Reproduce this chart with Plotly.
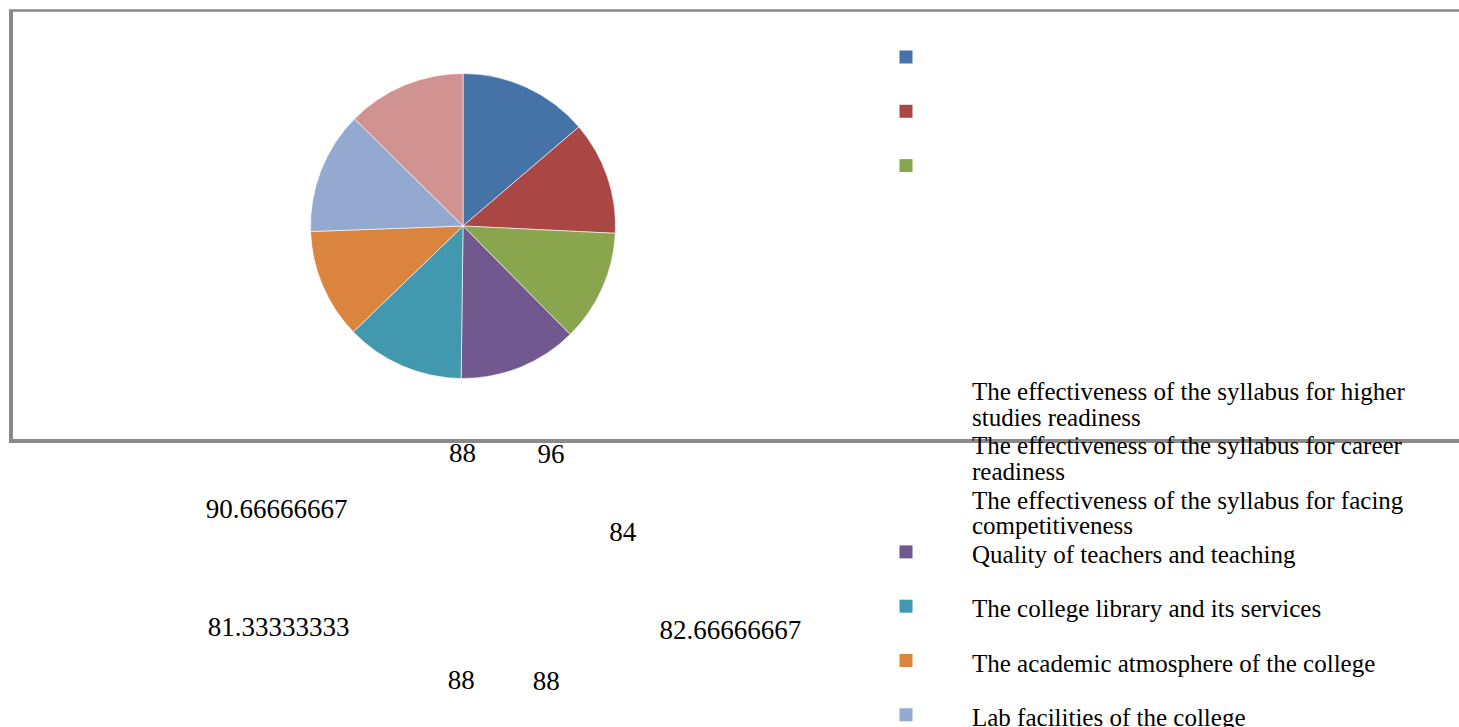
import math
import textwrap
import plotly.graph_objects as go

# ---------------- data ----------------
categories = [
    "The effectiveness of the syllabus for higher studies readiness",
    "The effectiveness of the syllabus for career readiness",
    "The effectiveness of the syllabus for facing competitiveness",
    "Quality of teachers and teaching",
    "The college library and its services",
    "The academic atmosphere of the college",
    "Lab facilities of the college",
    "Overall satisfaction with the college",
]
values = [96, 84, 82.66666667, 88, 88, 81.33333333, 90.66666667, 88]
colors = ["#4572A7", "#AA4643", "#89A54E", "#71588F",
          "#4198AF", "#DB843D", "#93A9CF", "#D19392"]

# ---------------- layout helpers ----------------
W, H = 1459, 727
FONT = "Liberation Serif, Times New Roman, serif"


def fx(px):
    return px / W


def fy(py):
    return 1 - py / H


fig = go.Figure()

# pie
fig.add_trace(go.Pie(
    values=values, labels=categories,
    marker=dict(colors=colors, line=dict(color="rgba(255,255,255,0.6)", width=1)),
    sort=False, direction="clockwise", rotation=0,
    textinfo="none", hoverinfo="label+value", showlegend=False,
    domain=dict(x=[fx(310.5), fx(615.5)], y=[fy(378.5), fy(73.5)]),
))

# displaced data labels (placed around an ellipse by slice mid-angle)
total = sum(values)
cum = 0.0
lx, ly, lpos, ltxt = [], [], [], []
LCX, LCY = 505, 568
for v in values:
    mid = (cum + v / 2) / total * 2 * math.pi
    cum += v
    t = f"{v:.10g}"
    R = 97 + 6.55 * len(t)
    s, c = math.sin(mid), math.cos(mid)
    ry = R if len(t) < 4 else R * 0.93
    lx.append(LCX + R * s)
    ly.append(LCY - ry * c + (2 if len(t) < 4 and c > 0 else 0))
    if s > 0.7:
        lpos.append("middle right")
    elif s < -0.7:
        lpos.append("middle left")
    elif c > 0:
        lpos.append("top center")
    else:
        lpos.append("bottom center")
    ltxt.append(t)

fig.add_trace(go.Scatter(
    x=lx, y=ly, mode="text", text=ltxt, textposition=lpos,
    textfont=dict(family=FONT, size=27, color="black"),
    showlegend=False, hoverinfo="skip",
))

# legend (markers + wrapped text, as in the reference rendering)
STEP = 54.3
TEXT_Y0 = 391.5
MARK_Y0 = 57
LINE_H = 25.5
mx, my, mc = [], [], []
annotations = []
for k, (cat, col) in enumerate(zip(categories, colors)):
    ty = TEXT_Y0 + k * STEP
    myk = MARK_Y0 + k * STEP if k < 3 else ty - 2.5
    if myk < H:
        mx.append(906)
        my.append(myk)
        mc.append(col)
    for j, line in enumerate(textwrap.wrap(cat, width=44)):
        yy = ty + j * LINE_H
        if yy < H:
            annotations.append(dict(
                x=971, y=yy, xref="x", yref="y", text=line, showarrow=False,
                xanchor="left", yanchor="middle", borderpad=0,
                font=dict(family=FONT, size=25, color="black"),
            ))

fig.add_trace(go.Scatter(
    x=mx, y=my, mode="markers",
    marker=dict(symbol="square", size=13, color=mc, line=dict(width=0)),
    showlegend=False, hoverinfo="skip",
))

BORDER = "#8a8a8a"
shapes = [
    dict(type="line", xref="x", yref="y", x0=11, x1=11, y0=10.5, y1=441,
         line=dict(color=BORDER, width=4)),
    dict(type="line", xref="x", yref="y", x0=9, x1=W + 20, y0=10.5, y1=10.5,
         line=dict(color=BORDER, width=2.5)),
    dict(type="line", xref="x", yref="y", x0=9, x1=W + 20, y0=441, y1=441,
         line=dict(color=BORDER, width=4)),
]

fig.update_layout(
    width=W, height=H,
    margin=dict(l=0, r=0, t=0, b=0),
    paper_bgcolor="white", plot_bgcolor="white",
    xaxis=dict(range=[0, W], visible=False, domain=[0, 1], fixedrange=True),
    yaxis=dict(range=[H, 0], visible=False, domain=[0, 1], fixedrange=True),
    annotations=annotations,
    shapes=shapes,
    showlegend=False,
)

fig.write_html("out.html", config={"displayModeBar": False})

# remove the default page margin so the figure sits at the window's top-left
with open("out.html", "r", encoding="utf-8") as f:
    html = f.read()
html = html.replace("<body>", '<body style="margin:0;overflow:hidden">', 1)
with open("out.html", "w", encoding="utf-8") as f:
    f.write(html)
